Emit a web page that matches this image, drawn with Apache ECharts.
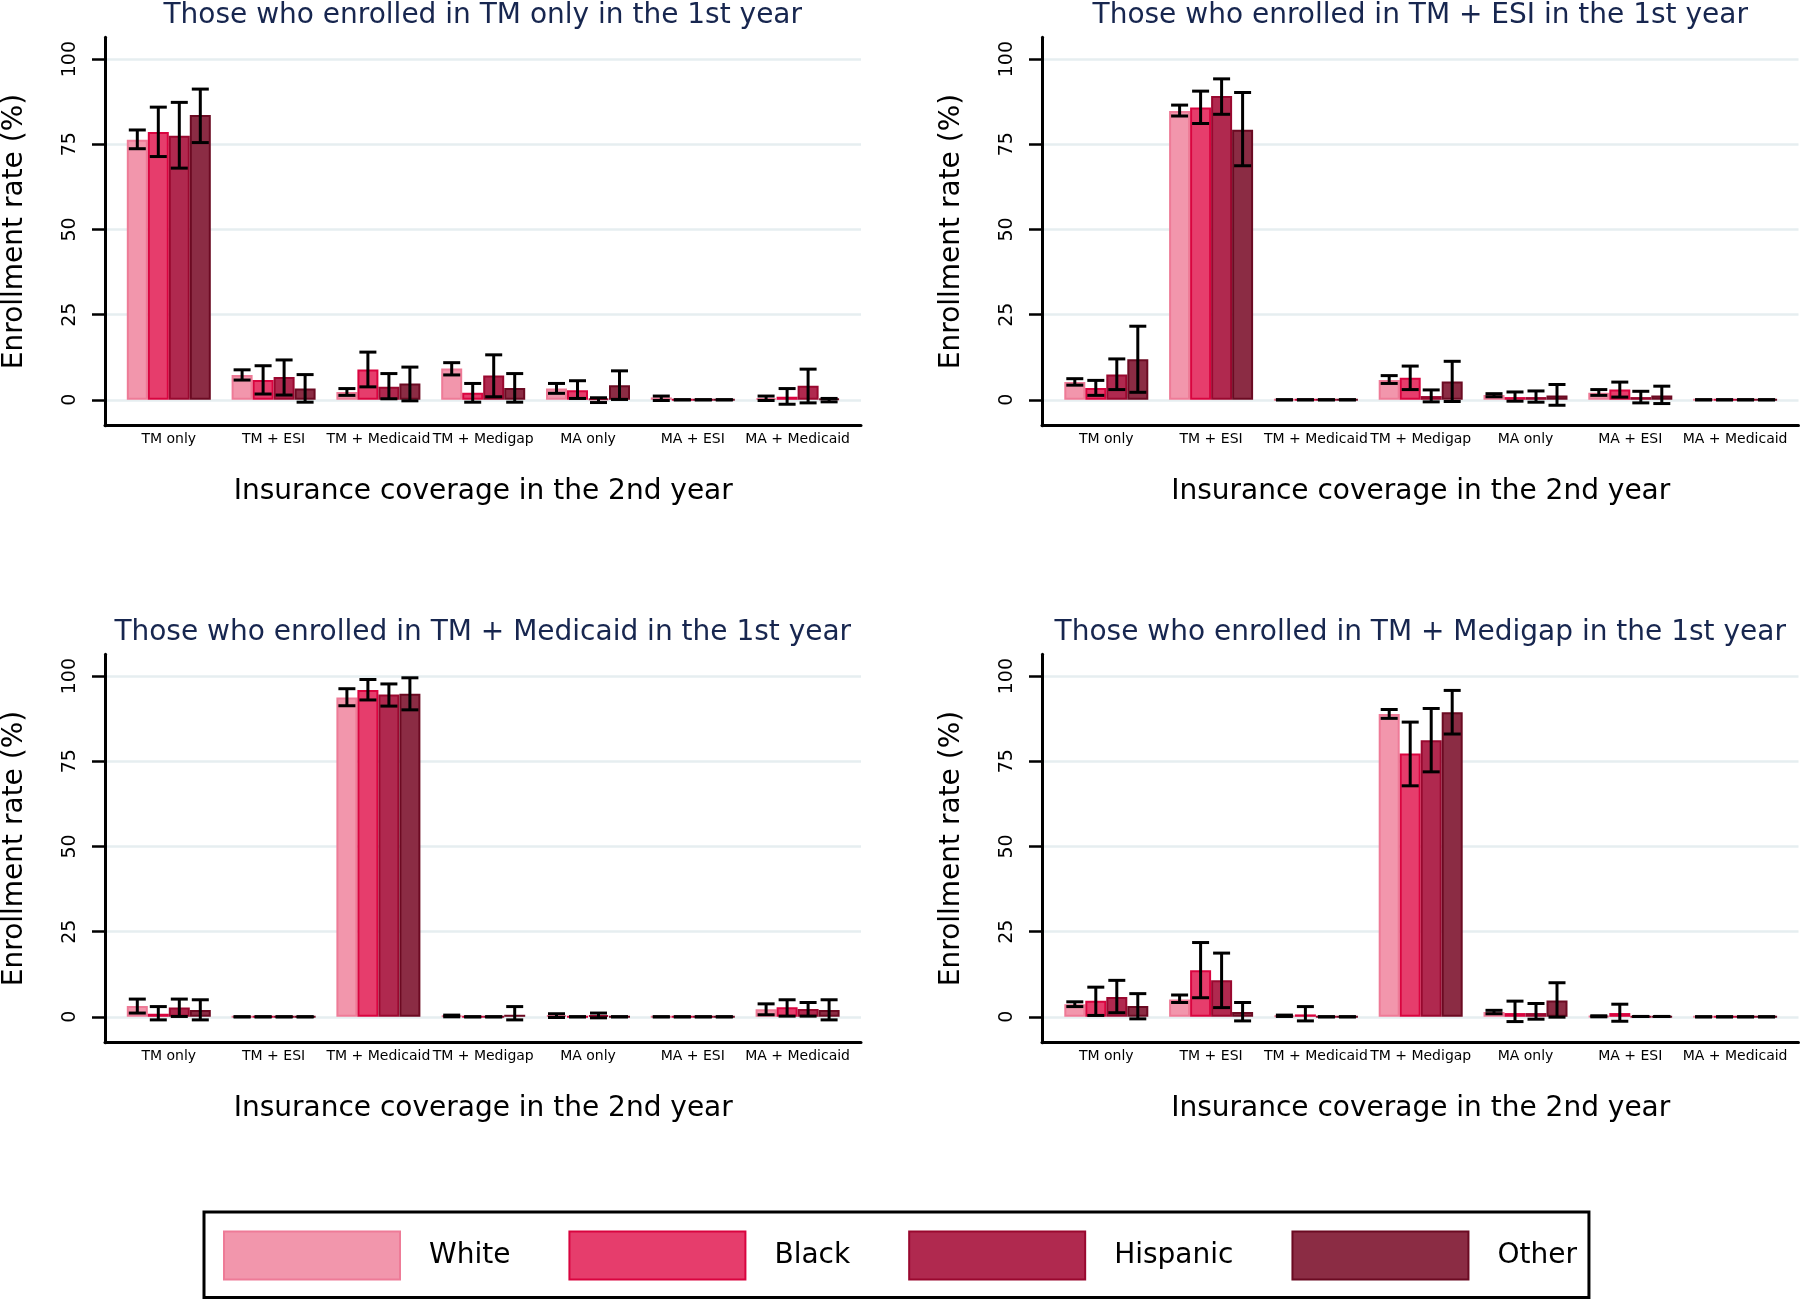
<!DOCTYPE html>
<html><head><meta charset="utf-8">
<script src="https://cdn.jsdelivr.net/npm/echarts@6/dist/echarts.min.js"></script>
<style>html,body{margin:0;padding:0;background:#fff}#c{width:1800px;height:1299px}</style>
</head><body><div id="c"></div>
<script>
// ---------------- DATA ----------------
const categories = ['TM only', 'TM + ESI', 'TM + Medicaid', 'TM + Medigap', 'MA only', 'MA + ESI', 'MA + Medicaid'];
const races = ['White', 'Black', 'Hispanic', 'Other'];
const panelTitles = [
  'Those who enrolled in TM only in the 1st year',
  'Those who enrolled in TM + ESI in the 1st year',
  'Those who enrolled in TM + Medicaid in the 1st year',
  'Those who enrolled in TM + Medigap in the 1st year'
];
const yTicks = [0, 25, 50, 75, 100];
const yTitle = 'Enrollment rate (%)';
const xTitle = 'Insurance coverage in the 2nd year';

// rows = race (White, Black, Hispanic, Other), columns = categories
const p1Mean = [
  [76.3, 7.3, 2.3, 9.2, 3.3, 0.7, 0.5],
  [78.6, 5.8, 8.9, 2.1, 2.8, 0, 0.9],
  [77.5, 6.7, 3.8, 7.1, 0.4, 0, 4.1],
  [83.6, 3.3, 4.8, 3.5, 4.3, 0, 0.3]
];
const p1Low = [
  [73.7, 5.8, 1.3, 7.3, 1.9, -0.2, -0.2],
  [71.4, 1.7, 3.8, -0.7, 0.4, 0, -1.3],
  [68.0, 1.4, 0.3, 0.9, -0.8, 0, -0.9],
  [75.5, -0.7, -0.3, -0.7, 0.1, 0, -0.6]
];
const p1High = [
  [79.2, 8.8, 3.3, 10.9, 4.8, 1.1, 1.1],
  [85.9, 10.0, 14.0, 4.8, 5.6, 0, 3.3],
  [87.3, 11.7, 7.7, 13.2, 0.6, 0, 9.0],
  [91.2, 7.4, 9.6, 7.7, 8.5, 0, 0.4]
];

const p2Mean = [
  [5.2, 84.8, 0, 5.8, 1.4, 2.1, 0],
  [3.5, 85.8, 0, 6.5, 0.8, 3.0, 0],
  [7.4, 89.2, 0, 1.1, 0.8, 0.8, 0],
  [11.9, 79.3, 0, 5.4, 1.3, 1.3, 0]
];
const p2Low = [
  [4.3, 83.3, 0, 4.8, 0.9, 1.3, 0],
  [1.3, 81.1, 0, 3.0, -0.4, 0.8, 0],
  [3.0, 83.8, 0, -0.6, -0.7, -0.9, 0],
  [2.2, 68.7, 0, -0.5, -1.6, -1.1, 0]
];
const p2High = [
  [6.2, 86.5, 0, 7.1, 1.8, 3.0, 0],
  [5.7, 90.6, 0, 9.9, 2.3, 5.2, 0],
  [12.0, 94.2, 0, 2.9, 2.6, 2.5, 0],
  [21.6, 90.2, 0, 11.3, 4.5, 4.0, 0]
];

const p3Mean = [
  [3.2, 0, 93.7, 0.3, 0.5, 0, 2.2],
  [0.9, 0, 95.9, 0, 0, 0, 2.8],
  [2.7, 0, 94.6, 0, 0.5, 0, 2.3],
  [2.0, 0, 94.8, 0.6, 0, 0, 2.0]
];
const p3Low = [
  [1.1, 0, 91.3, 0.0, -0.2, 0, 0.6],
  [-0.9, 0, 93.0, 0, 0, 0, 0.2],
  [0.1, 0, 91.2, 0, -0.3, 0, 0.2],
  [-0.9, 0, 90.1, -0.9, 0, 0, -0.9]
];
const p3High = [
  [5.2, 0, 96.3, 0.5, 0.9, 0, 3.8],
  [3.0, 0, 99.0, 0, 0, 0, 5.0],
  [5.2, 0, 97.7, 0, 1.1, 0, 4.2],
  [5.0, 0, 99.5, 3.0, 0, 0, 5.0]
];

const p4Mean = [
  [3.7, 5.1, 0.3, 88.9, 1.4, 0.2, 0],
  [4.7, 13.7, 0.7, 77.3, 1.1, 1.1, 0],
  [5.8, 10.7, 0, 81.2, 1.1, 0.1, 0],
  [3.2, 1.4, 0, 89.4, 4.8, 0.1, 0]
];
const p4Low = [
  [3.0, 4.2, 0.1, 87.6, 0.9, 0.0, 0],
  [0.4, 5.6, -1.2, 67.8, -1.4, -1.3, 0],
  [1.2, 2.7, 0, 71.9, -0.7, 0.1, 0],
  [-0.6, -1.2, 0, 83.0, -0.1, 0.1, 0]
];
const p4High = [
  [4.4, 6.4, 0.5, 90.2, 1.9, 0.3, 0],
  [8.7, 21.8, 3.0, 86.5, 4.6, 3.7, 0],
  [10.7, 18.7, 0, 90.5, 3.9, 0.1, 0],
  [6.8, 4.2, 0, 95.8, 10.0, 0.1, 0]
];

// ---------------- STYLE / LAYOUT ----------------
const panels = [
  { mean: p1Mean, low: p1Low, high: p1High },
  { mean: p2Mean, low: p2Low, high: p2High },
  { mean: p3Mean, low: p3Low, high: p3High },
  { mean: p4Mean, low: p4Low, high: p4High }
];
const FONT = 'DejaVu Sans';
const fills = ['#f296ac', '#e63d6c', '#b0294f', '#8b2c44'];
const borders = ['#ee7b97', '#d9043f', '#99082f', '#6b0a22'];
const BAR_W = 21, CAP_W = 17;
const Y_MIN = -7.6, Y_MAX = 106.4;
const panelPos = [
  { left: 104.5, top: 37.3 },
  { left: 1042, top: 37.3 },
  { left: 104.5, top: 654.3 },
  { left: 1042, top: 654.3 }
];
const OUTER_W = 756.5, INNER_OFF = 11.9, INNER_W = 733.6, PLOT_H = 388.4;

const grid = [], xAxis = [], yAxis = [], series = [], graphic = [];

panels.forEach((p, pi) => {
  const pos = panelPos[pi];
  const go = 2 * pi, gi = 2 * pi + 1;
  grid.push({ left: pos.left, top: pos.top, width: OUTER_W, height: PLOT_H });
  grid.push({ left: pos.left + INNER_OFF, top: pos.top, width: INNER_W, height: PLOT_H });

  xAxis.push({
    type: 'value', gridIndex: go, min: 0, max: 1,
    axisLine: { show: true, onZero: false, lineStyle: { color: '#000', width: 3 } },
    axisTick: { show: false }, axisLabel: { show: false }, splitLine: { show: false }
  });
  xAxis.push({
    type: 'category', gridIndex: gi, data: categories,
    axisLine: { show: false }, axisTick: { show: false },
    axisLabel: { interval: 0, fontSize: 14, margin: 7, color: '#000', fontFamily: FONT },
    name: xTitle, nameLocation: 'middle', nameGap: 52,
    nameTextStyle: { fontSize: 28, color: '#000', fontFamily: FONT }
  });
  yAxis.push({
    type: 'value', gridIndex: go, min: Y_MIN, max: Y_MAX,
    axisLine: { show: true, onZero: false, lineStyle: { color: '#000', width: 3 } },
    axisTick: { show: true, customValues: yTicks, length: 13, lineStyle: { color: '#000', width: 2.5 } },
    axisLabel: { customValues: yTicks, rotate: 90, fontSize: 19, margin: 25, color: '#000', fontFamily: FONT },
    splitLine: { show: true, lineStyle: { color: '#e6eef0', width: 2.5 } },
    name: yTitle, nameLocation: 'middle', nameRotate: 90, nameGap: 76,
    nameTextStyle: { fontSize: 28, color: '#000', fontFamily: FONT }
  });
  yAxis.push({ type: 'value', gridIndex: gi, min: Y_MIN, max: Y_MAX, show: false, splitLine: { show: false } });

  races.forEach((r, ri) => {
    series.push({
      type: 'bar', name: r, xAxisIndex: gi, yAxisIndex: gi,
      data: p.mean[ri], barWidth: BAR_W, barGap: '0%',
      itemStyle: { color: fills[ri], borderColor: borders[ri], borderWidth: 2 },
      z: 2, silent: true
    });
  });
  races.forEach((r, ri) => {
    series.push({
      type: 'custom', name: 'ci-' + r, xAxisIndex: gi, yAxisIndex: gi, z: 5, silent: true,
      data: categories.map((c, ci) => [ci, p.low[ri][ci], p.high[ri][ci]]),
      encode: { x: 0, y: [1, 2] },
      renderItem: (params, api) => {
        const ci = api.value(0);
        const pLo = api.coord([ci, api.value(1)]);
        const pHi = api.coord([ci, api.value(2)]);
        const x = pLo[0] + (ri - 1.5) * BAR_W;
        const h = CAP_W / 2;
        const st = { stroke: '#000', lineWidth: 3 };
        return {
          type: 'group', children: [
            { type: 'line', shape: { x1: x, y1: pHi[1], x2: x, y2: pLo[1] }, style: st },
            { type: 'line', shape: { x1: x - h, y1: pHi[1], x2: x + h, y2: pHi[1] }, style: st },
            { type: 'line', shape: { x1: x - h, y1: pLo[1], x2: x + h, y2: pLo[1] }, style: st }
          ]
        };
      }
    });
  });

  graphic.push({
    type: 'text', x: pos.left + OUTER_W / 2, y: pos.top - 22,
    style: { text: panelTitles[pi], fontSize: 28, fontFamily: FONT, fill: '#17264f',
      align: 'center', verticalAlign: 'middle', textAlign: 'center', textVerticalAlign: 'middle' }
  });
});

const chart = echarts.init(document.getElementById('c'), null, { renderer: 'canvas' });
chart.setOption({
  animation: false,
  backgroundColor: '#fff',
  grid, xAxis, yAxis, series, graphic,
  legend: {
    data: races, left: 204, top: 1212, orient: 'horizontal',
    icon: 'rect', itemWidth: 176, itemHeight: 48, itemGap: 58,
    padding: [18.5, 12, 17, 19],
    borderColor: '#000', borderWidth: 3, selectedMode: false,
    itemStyle: { borderWidth: 2 },
    textStyle: { fontFamily: FONT, fontSize: 28, color: '#000', padding: [0, 0, 0, 24] }
  }
});
</script>
</body></html>
